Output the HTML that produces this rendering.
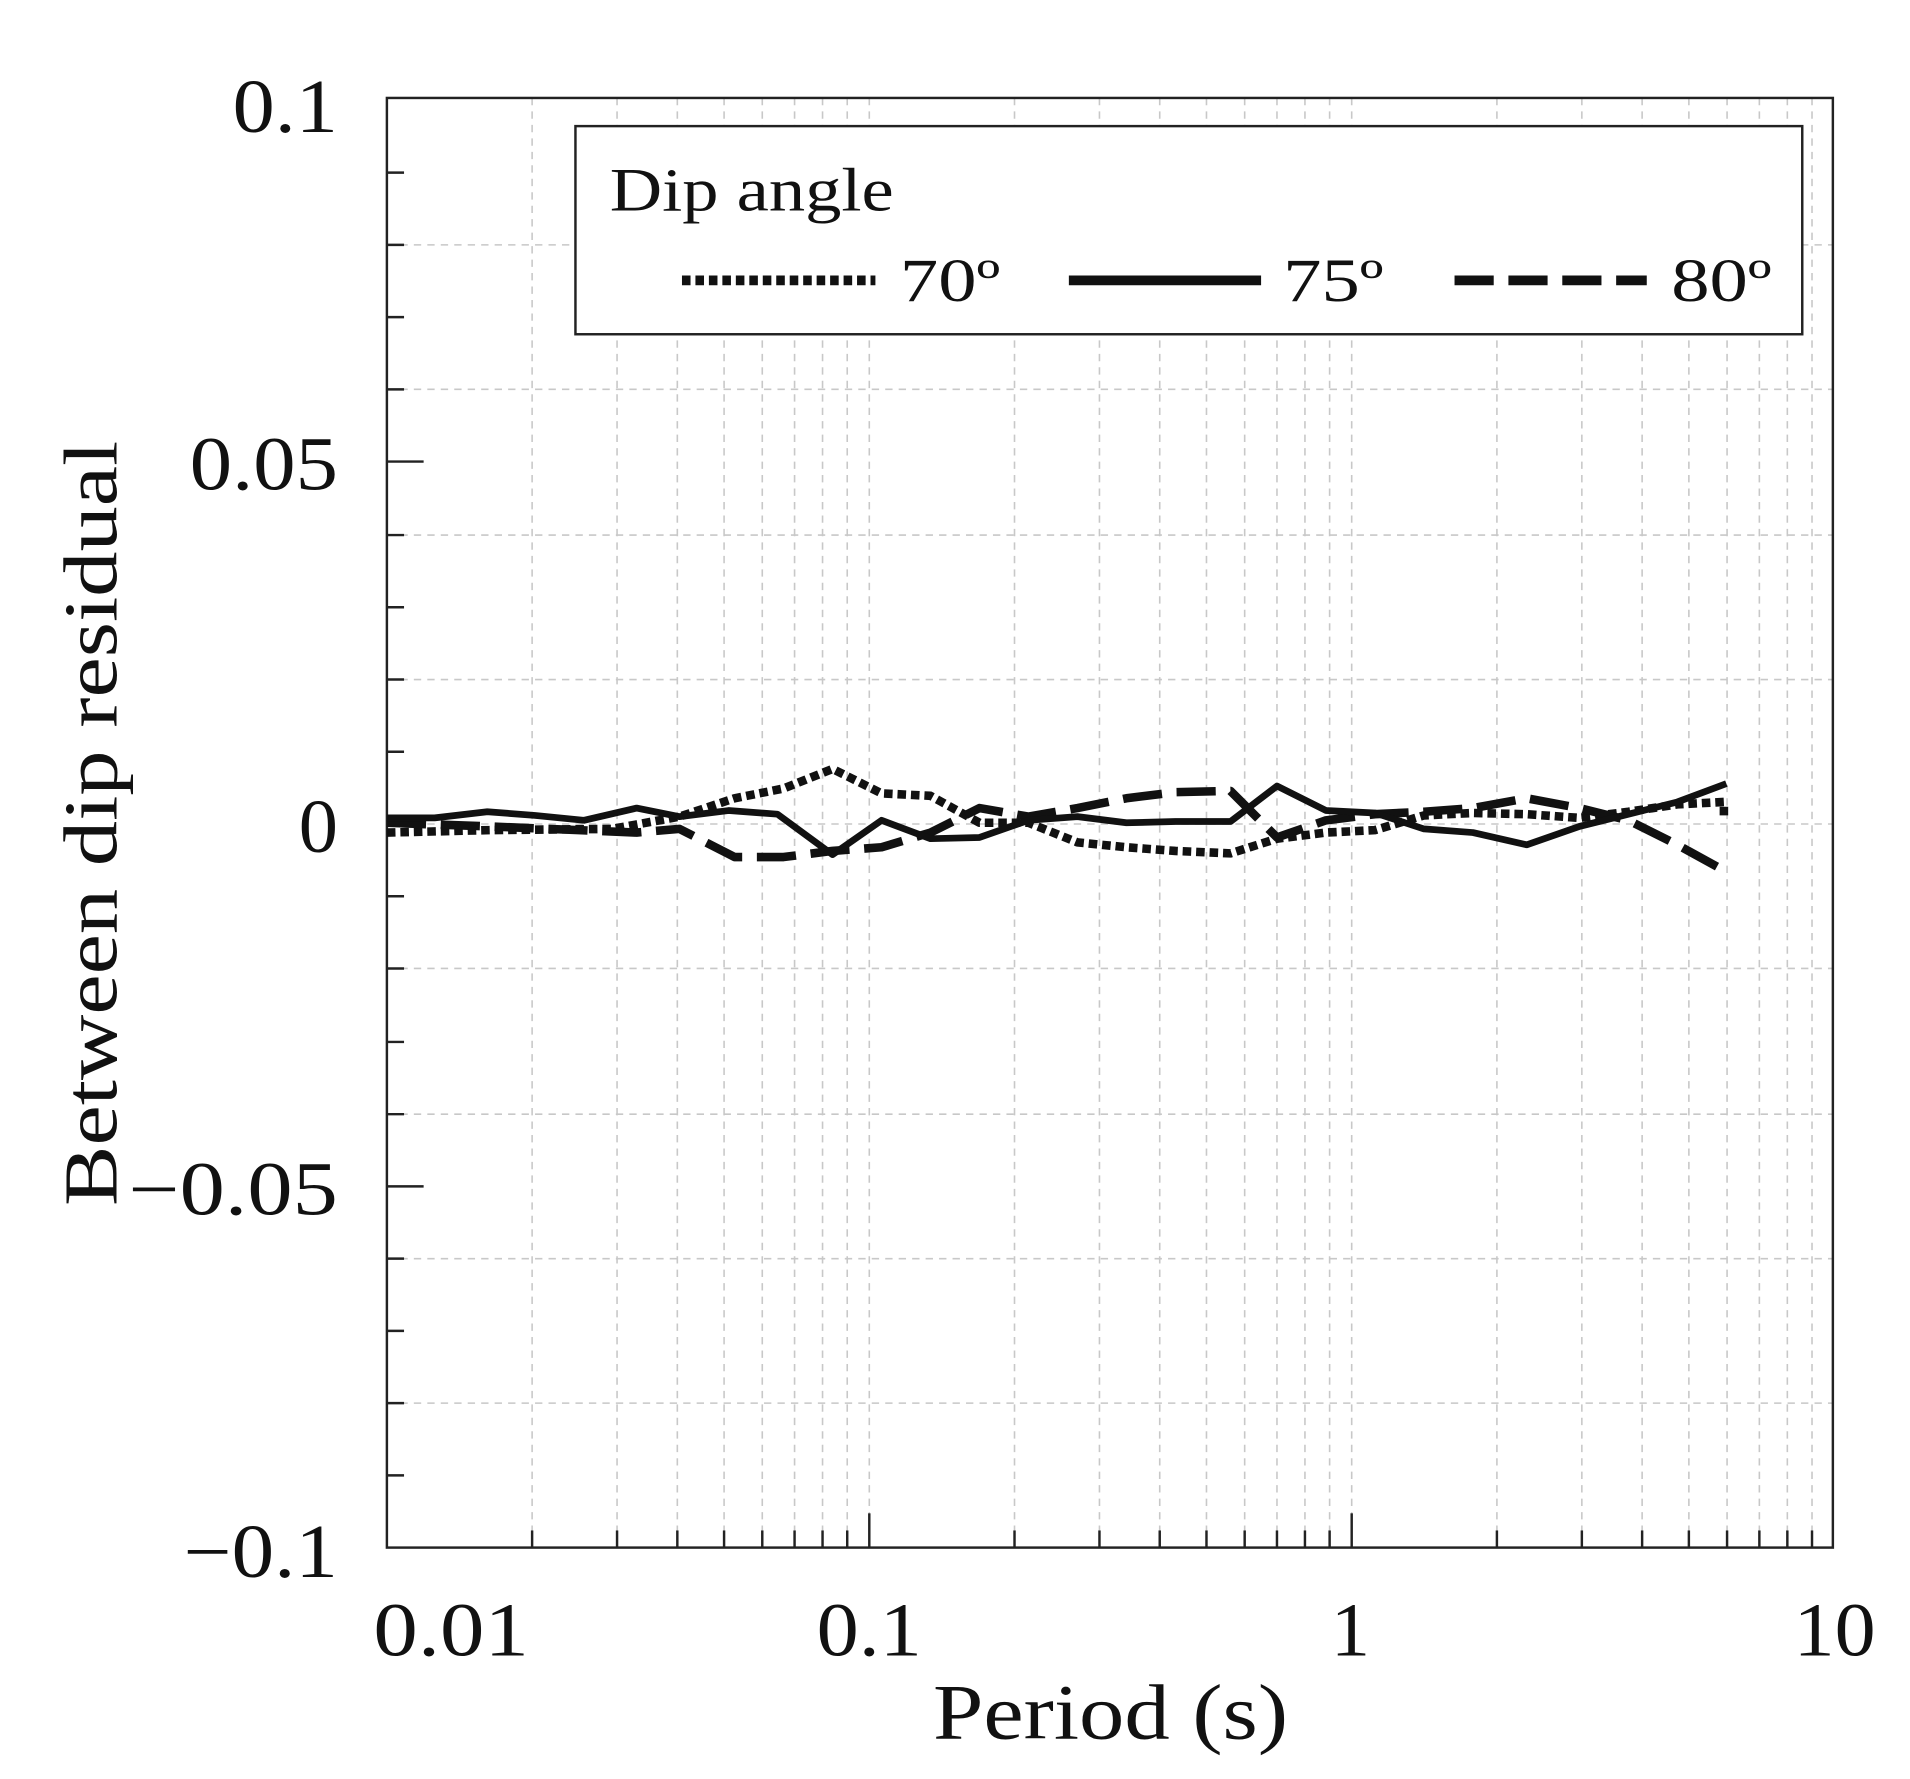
<!DOCTYPE html>
<html><head><meta charset="utf-8"><style>
html,body{margin:0;padding:0;background:#fff;}
svg{display:block;}
text{font-family:"Liberation Serif",serif;fill:#111;}
</style></head><body>
<svg width="1910" height="1779" viewBox="0 0 1560 1453" xmlns="http://www.w3.org/2000/svg">
<rect width="1560" height="1453" fill="#fff"/>
<g stroke="#c8c8c8" stroke-width="1.3" stroke-dasharray="6,5" fill="none">
<line x1="316" x2="1497" y1="200" y2="200"/><line x1="316" x2="1497" y1="318" y2="318"/>
<line x1="316" x2="1497" y1="437" y2="437"/><line x1="316" x2="1497" y1="555" y2="555"/>
<line x1="316" x2="1497" y1="673" y2="673"/>
<line x1="316" x2="1497" y1="791" y2="791"/><line x1="316" x2="1497" y1="910" y2="910"/>
<line x1="316" x2="1497" y1="1028" y2="1028"/><line x1="316" x2="1497" y1="1146" y2="1146"/>
</g>
<g id="vg" stroke="#c8c8c8" stroke-width="1.3" stroke-dasharray="6,5"></g>
<rect x="316" y="80" width="1181" height="1184" fill="none" stroke="#222" stroke-width="2"/>
<g stroke="#222" stroke-width="2">
<line x1="316" x2="346" y1="377" y2="377"/><line x1="316" x2="346" y1="673" y2="673"/><line x1="316" x2="346" y1="969" y2="969"/>
<line x1="316" x2="330" y1="141" y2="141"/><line x1="316" x2="330" y1="200" y2="200"/><line x1="316" x2="330" y1="259" y2="259"/><line x1="316" x2="330" y1="318" y2="318"/>
<line x1="316" x2="330" y1="437" y2="437"/><line x1="316" x2="330" y1="496" y2="496"/><line x1="316" x2="330" y1="555" y2="555"/><line x1="316" x2="330" y1="614" y2="614"/>
<line x1="316" x2="330" y1="732" y2="732"/><line x1="316" x2="330" y1="791" y2="791"/><line x1="316" x2="330" y1="851" y2="851"/><line x1="316" x2="330" y1="910" y2="910"/>
<line x1="316" x2="330" y1="1028" y2="1028"/><line x1="316" x2="330" y1="1087" y2="1087"/><line x1="316" x2="330" y1="1146" y2="1146"/><line x1="316" x2="330" y1="1205" y2="1205"/>
</g>
<g id="xt" stroke="#222" stroke-width="2"></g>
<g fill="none" stroke="#111" stroke-width="7" stroke-linejoin="round">
<polyline stroke-dasharray="7,4" points="316,680 400,678 500,677 555,667 600,652 640,644 680,628 720,648 760,650 800,672 840,672 880,688 920,692 960,695 1005,697 1043,685 1083,680 1123,678 1163,666 1203,664 1247,665 1290,668 1330,663 1370,657 1408,655 1408,667"/>
<polyline stroke-dasharray="32,12" points="316,672 400,675 520,680 555,677 600,700 640,700 680,695 720,692 760,680 800,660 840,667 880,660 920,652 960,647 1005,646 1043,684 1083,670 1123,665 1163,663 1203,660 1247,652 1290,660 1330,670 1370,690 1410,712"/>
<polyline stroke-width="5.5" points="316,668 355,668 398,663 437,666 477,670 520,660 555,667 595,662 635,665 680,698 720,670 760,685 800,684 840,670 880,667 920,672 960,671 1005,671 1043,642 1083,662 1123,664 1163,677 1203,680 1247,690 1290,675 1330,665 1370,655 1410,640"/>
</g>
<rect x="470" y="103" width="1002" height="170" fill="#fff" stroke="#222" stroke-width="2"/>
<text x="498" y="172" font-size="50" textLength="232" lengthAdjust="spacingAndGlyphs">Dip angle</text>
<g fill="none" stroke="#111" stroke-width="8">
<line x1="557" x2="715" y1="229" y2="229" stroke-dasharray="7,4"/>
<line x1="873" x2="1030" y1="229" y2="229"/>
<line x1="1188" x2="1345" y1="229" y2="229" stroke-dasharray="32,12"/>
</g>
<text x="735" y="246" font-size="50" textLength="82" lengthAdjust="spacingAndGlyphs">70º</text>
<text x="1048" y="246" font-size="50" textLength="82" lengthAdjust="spacingAndGlyphs">75º</text>
<text x="1365" y="246" font-size="50" textLength="82" lengthAdjust="spacingAndGlyphs">80º</text>
<g font-size="62">
<text x="190" y="108" textLength="86" lengthAdjust="spacingAndGlyphs">0.1</text>
<text x="155" y="400" textLength="121" lengthAdjust="spacingAndGlyphs">0.05</text>
<text x="244" y="696" textLength="32" lengthAdjust="spacingAndGlyphs">0</text>
<text x="105" y="992" textLength="171" lengthAdjust="spacingAndGlyphs">−0.05</text>
<text x="150" y="1288" textLength="126" lengthAdjust="spacingAndGlyphs">−0.1</text>
<text x="305" y="1352" textLength="127" lengthAdjust="spacingAndGlyphs">0.01</text>
<text x="667" y="1352" textLength="86" lengthAdjust="spacingAndGlyphs">0.1</text>
<text x="1087" y="1352" textLength="32" lengthAdjust="spacingAndGlyphs">1</text>
<text x="1465" y="1352" textLength="67" lengthAdjust="spacingAndGlyphs">10</text>
<text x="762" y="1420" font-size="64" textLength="290" lengthAdjust="spacingAndGlyphs">Period (s)</text>
</g>
<text transform="translate(95,985) rotate(-90)" font-size="62" textLength="625" lengthAdjust="spacingAndGlyphs">Between dip residual</text>
<script>
(function(){
var ns="http://www.w3.org/2000/svg",vg=document.getElementById("vg"),xt=document.getElementById("xt");
var x0=316,dec=394;
for(var d=0;d<3;d++){for(var m=1;m<10;m++){
 if(d==0&&m==1)continue;
 var x=x0+dec*(d+Math.log10(m));
 var l=document.createElementNS(ns,"line");
 l.setAttribute("x1",x);l.setAttribute("x2",x);l.setAttribute("y1",80);l.setAttribute("y2",1264);vg.appendChild(l);
 var t=document.createElementNS(ns,"line");
 t.setAttribute("x1",x);t.setAttribute("x2",x);t.setAttribute("y1",1264);t.setAttribute("y2",m==1?1236:1250);xt.appendChild(t);
}}
})();
</script>
</svg>
</body></html>
